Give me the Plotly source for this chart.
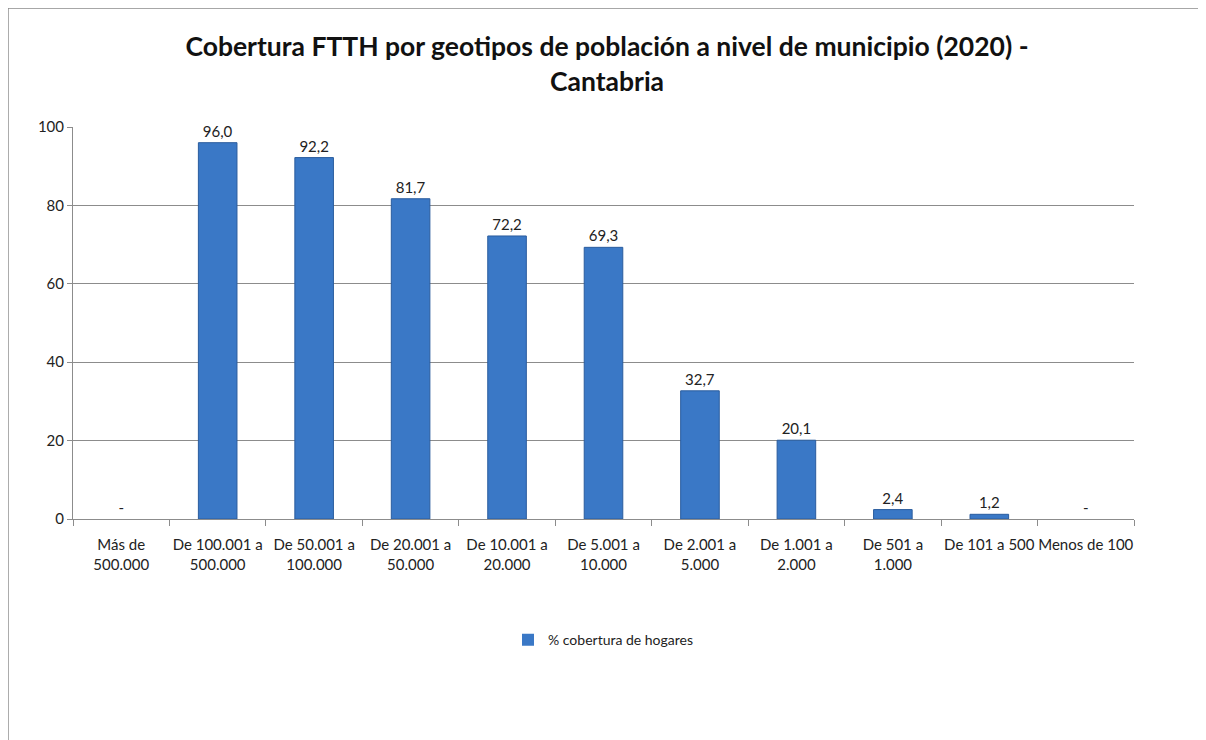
import plotly.graph_objects as go

# Datos
categorias = [
    "Más de<br>500.000",
    "De 100.001 a<br>500.000",
    "De 50.001 a<br>100.000",
    "De 20.001 a<br>50.000",
    "De 10.001 a<br>20.000",
    "De 5.001 a<br>10.000",
    "De 2.001 a<br>5.000",
    "De 1.001 a<br>2.000",
    "De 501 a<br>1.000",
    "De 101 a 500",
    "Menos de 100",
]
cobertura = [0, 96.0, 92.2, 81.7, 72.2, 69.3, 32.7, 20.1, 2.4, 1.2, 0]
sin_dato = [True, False, False, False, False, False, False, False, False, False, True]

etiquetas = ["-" if nd else f"{v:.1f}".replace(".", ",") for v, nd in zip(cobertura, sin_dato)]
borde = [0 if nd else 1 for nd in sin_dato]

FONT = "Lato, 'Open Sans', sans-serif"
GRID = "#8c8c8c"

fig = go.Figure(
    go.Bar(
        x=categorias,
        y=cobertura,
        name="% cobertura de hogares",
        text=etiquetas,
        textposition="outside",
        cliponaxis=False,
        textfont=dict(size=15, color="#222222"),
        marker=dict(color="#3a78c6", line=dict(color="#2a5c9e", width=borde)),
        hoverinfo="skip",
    )
)

# marco del gráfico (esquina superior izquierda, como en Excel)
fig.add_shape(type="line", xref="paper", yref="paper", x0=-0.0613, x1=1.08, y0=1.3036, y1=1.3036,
              line=dict(color="#8a8a8a", width=1.5))
fig.add_shape(type="line", xref="paper", yref="paper", x0=-0.0613, x1=-0.0613, y0=1.3036, y1=-0.6,
              line=dict(color="#8a8a8a", width=1.5))

fig.update_layout(
    width=1198,
    height=732,
    plot_bgcolor="white",
    paper_bgcolor="white",
    font=dict(family=FONT, size=14, color="#222222"),
    margin=dict(l=65, r=72, t=119, b=221),
    bargap=0.6,
    title=dict(
        text="<b>Cobertura FTTH por geotipos de población a nivel de municipio (2020) -<br>Cantabria</b>",
        x=0.5,
        xanchor="center",
        y=0.934,
        yanchor="middle",
        font=dict(family=FONT, size=26.5, color="#111111"),
    ),
    xaxis=dict(
        showline=True,
        linecolor=GRID,
        ticks="outside",
        tickson="boundaries",
        ticklen=6,
        tickcolor=GRID,
        tickangle=0,
        ticklabelstandoff=12,
        tickfont=dict(size=15),
        showgrid=False,
    ),
    yaxis=dict(
        range=[0, 100],
        dtick=20,
        showline=True,
        linecolor=GRID,
        ticks="outside",
        ticklen=5,
        tickcolor=GRID,
        gridcolor=GRID,
        gridwidth=1,
        zeroline=False,
        tickfont=dict(size=15),
    ),
    showlegend=True,
    legend=dict(
        orientation="h",
        x=0.5,
        xanchor="center",
        y=-0.309,
        yanchor="middle",
        font=dict(size=14),
        itemwidth=30,
    ),
)

fig.write_html("out.html")
